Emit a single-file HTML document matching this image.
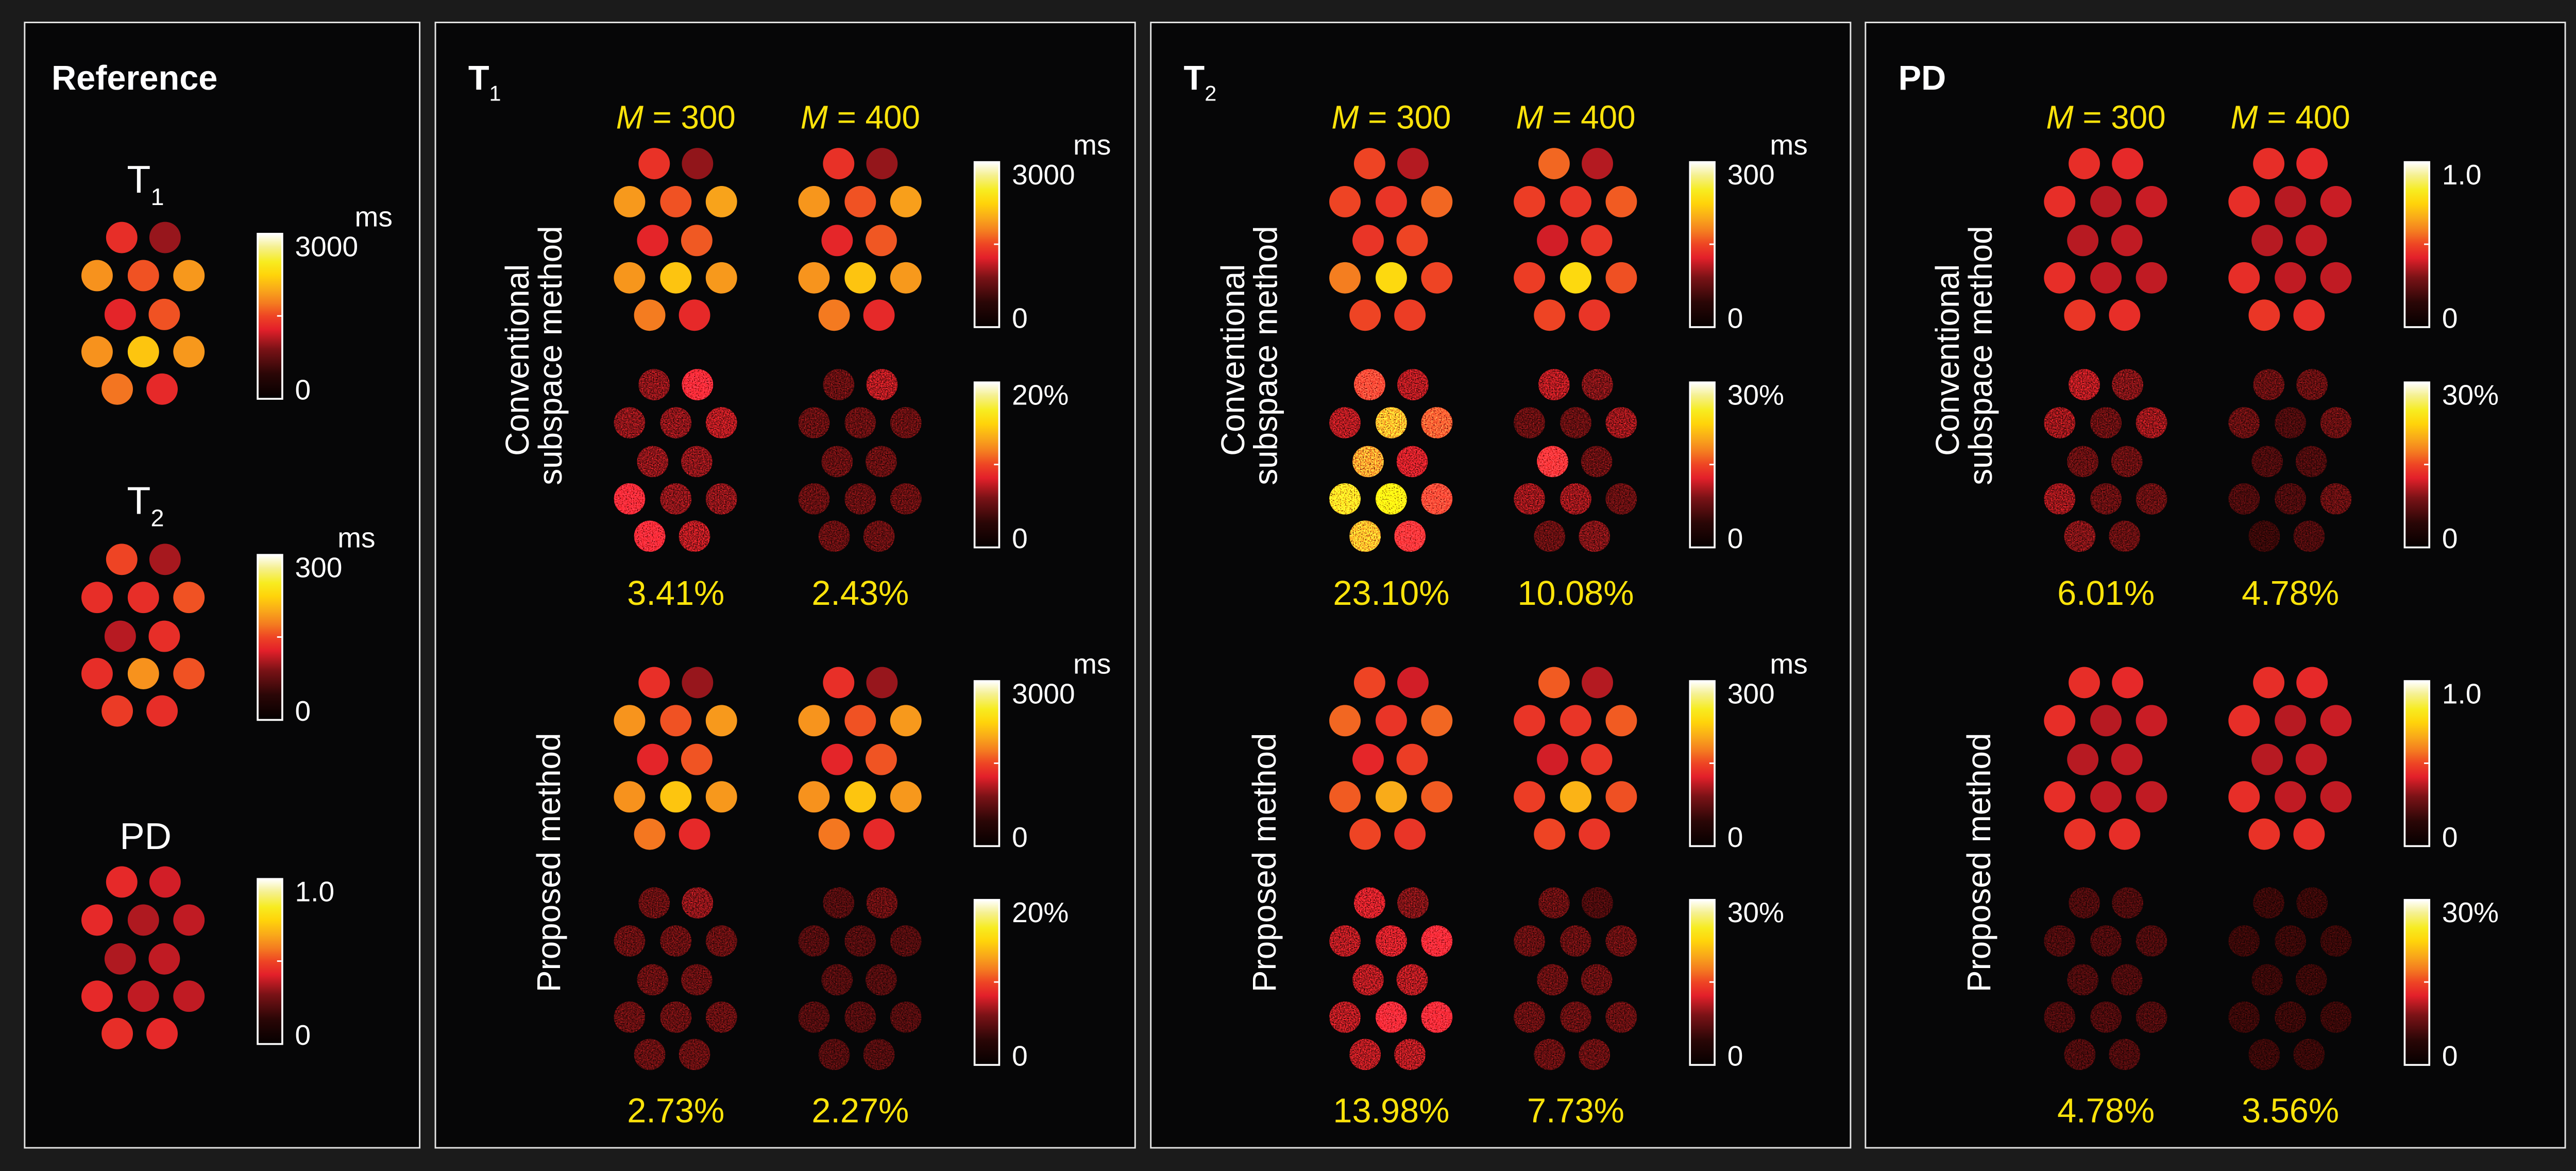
<!DOCTYPE html>
<html><head><meta charset="utf-8">
<style>
html,body{margin:0;padding:0;background:#1b1b1b;}
svg{display:block;}
text{font-family:"Liberation Sans",Arial,sans-serif;}
</style></head>
<body>
<svg id="fig" xmlns="http://www.w3.org/2000/svg" width="5024" height="2273" viewBox="0 0 3466 1568">
<defs>
<linearGradient id="cmap" x1="0" y1="1" x2="0" y2="0">
<stop offset="0" stop-color="#050000"/><stop offset="0.15" stop-color="#2a0606"/><stop offset="0.3" stop-color="#7a1216"/><stop offset="0.42" stop-color="#e3202a"/><stop offset="0.5" stop-color="#ee4424"/><stop offset="0.58" stop-color="#f47c20"/><stop offset="0.66" stop-color="#f9a81a"/><stop offset="0.75" stop-color="#ffd40a"/><stop offset="0.83" stop-color="#f7ec20"/><stop offset="0.92" stop-color="#f5f090"/><stop offset="1" stop-color="#ffffff"/>
</linearGradient>
<filter id="speckle" x="-5%" y="-5%" width="110%" height="110%" color-interpolation-filters="sRGB">
<feTurbulence type="fractalNoise" baseFrequency="0.6" numOctaves="2" seed="3" result="n"/>
<feColorMatrix in="n" type="matrix" values="0.9 0.9 0.9 0 -0.9  0.9 0.9 0.9 0 -0.9  0.9 0.9 0.9 0 -0.9  0 0 0 0 1" result="g"/>
<feComposite in="SourceGraphic" in2="g" operator="arithmetic" k1="2.4" k2="0.35" k3="0" k4="0" result="m"/>
<feComposite in="m" in2="SourceGraphic" operator="in"/>
</filter>
</defs>
<rect x="0" y="0" width="3466" height="1568" fill="#1b1b1b"/>
<g id="root"></g>
</svg>
<script>
// ---- data ----
const refT1 = [1350,1000,1860,1560,1890,1290,1560,1860,2160,1890,1710,1320];
const refT2 = [150,105,135,135,156,111,135,135,186,156,144,135];
const refPD = [0.44,0.40,0.44,0.36,0.38,0.36,0.38,0.44,0.38,0.38,0.45,0.44];

const t1Conv300 = [1380,980,1900,1560,1950,1290,1590,1880,2150,1900,1740,1320];
const t1Conv400 = [1370,990,1880,1560,1930,1300,1580,1870,2150,1900,1730,1320];
const t1Prop300 = [1360,1000,1870,1560,1900,1290,1570,1860,2160,1890,1720,1320];
const t1Prop400 = [1360,1000,1870,1560,1900,1290,1570,1860,2160,1890,1720,1320];
const t1ErrConv300 = [5,8,5,5,6,5,5,8,5,5,8,6];
const t1ErrConv400 = [4,6,4,4,4,4,4,4,4,4,4,4];
const t1ErrProp300 = [4,5,4,4,4,4,4,4,4,4,4,4];
const t1ErrProp400 = [3.5,4,3.5,3.5,3.5,3.5,3.5,3.5,3.5,3.5,3.5,3.5];

const t2Conv300 = [150,110,150,140,165,140,150,175,230,150,150,145];
const t2Conv400 = [165,110,145,140,160,120,140,145,230,155,150,140];
const t2Prop300 = [150,120,165,140,165,130,145,160,200,160,150,140];
const t2Prop400 = [160,110,140,140,160,120,140,145,205,155,150,140];
const t2ErrConv300 = [14,9,9,18,15,17,10,20,22,14,18,13];
const t2ErrConv400 = [9,7,6,6,8,13,6,8,8,6,6,7];
const t2ErrProp300 = [10,7,9,10,12,9,9,9,12,12,9,9];
const t2ErrProp400 = [6,5,6,6,6,6,6,6,6,6,6,6];

const pdConv300 = [0.45,0.44,0.45,0.37,0.39,0.37,0.38,0.45,0.38,0.38,0.47,0.45];
const pdConv400 = [0.45,0.44,0.45,0.37,0.39,0.37,0.38,0.45,0.38,0.38,0.47,0.45];
const pdProp300 = [0.45,0.44,0.45,0.37,0.39,0.37,0.38,0.45,0.38,0.38,0.46,0.45];
const pdProp400 = [0.45,0.44,0.45,0.37,0.39,0.37,0.38,0.45,0.38,0.38,0.46,0.45];
const pdErrConv300 = [9,7,8,6,8,6,6,8,6,6,7,6];
const pdErrConv400 = [6,6,6,5,6,5,5,5,5,6,4,5];
const pdErrProp300 = [5,5,5,5,5,5,5,5,5,5,5,5];
const pdErrProp400 = [4,4,4,4,4,4,4,4,4,4,4,4];

const nrmseT1 = ["3.41%","2.43%","2.73%","2.27%"];
const nrmseT2 = ["23.10%","10.08%","13.98%","7.73%"];
const nrmsePD = ["6.01%","4.78%","4.78%","3.56%"];

// ---- helpers ----
const NS="http://www.w3.org/2000/svg";
const root=document.getElementById('root');
function el(tag,attrs,parent){const e=document.createElementNS(NS,tag);for(const k in attrs)e.setAttribute(k,attrs[k]);(parent||root).appendChild(e);return e;}
const stops=[[0,[5,0,0]],[0.15,[42,6,6]],[0.3,[122,18,22]],[0.42,[227,32,42]],[0.5,[238,68,36]],[0.58,[244,124,32]],[0.66,[249,168,26]],[0.75,[255,212,10]],[0.83,[247,236,32]],[0.92,[245,240,144]],[1,[255,255,255]]];
function cmap(f){f=Math.max(0,Math.min(1,f));for(let i=1;i<stops.length;i++){if(f<=stops[i][0]){const a=stops[i-1],b=stops[i];const t=(f-a[0])/(b[0]-a[0]);const c=a[1].map((v,j)=>Math.round(v+(b[1][j]-v)*t));return 'rgb('+c.join(',')+')';}}return '#fff';}
const vdx=[-29,29,-62,0,61,-31,28,-62,0,61,-35,25];
const vdy=[-101,-101,-50,-50,-50,2,2,52,52,52,102,102];
function xVial(cx,i){return cx+vdx[i];}
function yVial(cy,i){return cy+vdy[i];}
function phantom(cx,cy,vals,max,name,speck){
  const g=el('g',{});
  
  
  if(speck)g.setAttribute('filter','url(#speckle)');
  vals.forEach((v,i)=>{
    const c=el('circle',{cx:xVial(cx,i),cy:yVial(cy,i),r:21,fill:cmap(v/max)},g);
    
    
  });
}
function txt(x,y,s,size,fill,anchor,name,extra){
  const t=el('text',Object.assign({x:x,y:y,'font-size':size,fill:fill,'text-anchor':anchor||'start'},extra||{}));
  t.textContent=s;
  
  
  return t;
}
function colorbar(x,top,hi,unit,unitX,name){
  const g=el('g',{});
  
  
  el('rect',{x:x,y:top,width:33,height:221,fill:'url(#cmap)',stroke:'#fff','stroke-width':2.5},g);
  el('line',{x1:x+26,y1:top+110,x2:x+33,y2:top+110,stroke:'#fff','stroke-width':2},g);
  const a=el('text',{x:x+50,y:top+30,'font-size':38,fill:'#fff'},g);a.textContent=hi;
  
  const b=el('text',{x:x+50,y:top+222,'font-size':38,fill:'#fff'},g);b.textContent='0';
  
  if(unit){const u=el('text',{x:unitX,y:top-10,'font-size':38,fill:'#fff'},g);u.textContent=unit;
  }
}
function subLabel(x,y,main,sub,size,bold,name,anchor){
  const t=el('text',{x:x,y:y,'font-size':size,fill:'#fff','font-weight':bold?'bold':'normal','text-anchor':anchor||'start'});
  
  
  const s1=el('tspan',{},t);s1.textContent=main;
  if(sub){const s2=el('tspan',{'font-size':size*0.62,dy:size*0.32,'font-weight':'normal'},t);s2.textContent=sub;}
}

// ---- reference panel ----
const pr=el('rect',{x:33,y:30,width:529,height:1507,fill:'#060607',stroke:'#e6e6e6','stroke-width':2});


txt(69,120,'Reference',46,'#fff','start','reference-title',{'font-weight':'bold'});
subLabel(170,258,'T','1',52,false,'ref-t1-label');
phantom(192,419,refT1,3000,'ref-t1-map',false);
colorbar(345,313,'3000','ms',475,'ref-t1-colorbar');
subLabel(170,688,'T','2',52,false,'ref-t2-label');
phantom(192,850,refT2,300,'ref-t2-map',false);
colorbar(345,743,'300','ms',452,'ref-t2-colorbar');
txt(195,1137,'PD',50,'#fff','middle','ref-pd-label');
phantom(192,1282,refPD,1,'ref-pd-map',false);
colorbar(345,1177,'1.0',null,0,'ref-pd-colorbar');

// ---- method panels ----
const panels=[
 {L:583,key:'t1',title:'T',sub:'1',max:3000,hi:'3000',unit:'ms',ux:854,maps:[t1Conv300,t1Conv400,t1Prop300,t1Prop400],errs:[t1ErrConv300,t1ErrConv400,t1ErrProp300,t1ErrProp400],emax:20,ehi:'20%',nr:nrmseT1},
 {L:1541,key:'t2',title:'T',sub:'2',max:300,hi:'300',unit:'ms',ux:829,maps:[t2Conv300,t2Conv400,t2Prop300,t2Prop400],errs:[t2ErrConv300,t2ErrConv400,t2ErrProp300,t2ErrProp400],emax:30,ehi:'30%',nr:nrmseT2},
 {L:2498,key:'pd',title:'PD',sub:null,max:1,hi:'1.0',unit:null,ux:0,maps:[pdConv300,pdConv400,pdProp300,pdProp400],errs:[pdErrConv300,pdErrConv400,pdErrProp300,pdErrProp400],emax:30,ehi:'30%',nr:nrmsePD}
];
panels.forEach(p=>{
  const L=p.L;
  const r=el('rect',{x:L,y:30,width:937,height:1507,fill:'#060607',stroke:'#e6e6e6','stroke-width':2});
  
  
  subLabel(L+44,120,p.title,p.sub,46,true,p.key+'-panel-title');
  const cols=[L+322,L+569];
  ['300','400'].forEach((m,i)=>{
    const t=el('text',{x:cols[i],y:172,'font-size':44,fill:'#fde30a','text-anchor':'middle'});
    
    
    const a=el('tspan',{'font-style':'italic'},t);a.textContent='M';
    const b=el('tspan',{},t);b.textContent=' = '+m;
  });
  txt(L+125,482,'Conventional',44,'#fff','middle',p.key+'-conventional-label',{transform:'rotate(-90 '+(L+125)+' 482)'});
  txt(L+169,476,'subspace method',44,'#fff','middle',p.key+'-subspace-label',{transform:'rotate(-90 '+(L+169)+' 476)'});
  txt(L+167,1155,'Proposed method',44,'#fff','middle',p.key+'-proposed-label',{transform:'rotate(-90 '+(L+167)+' 1155)'});
  const mapY=[320,1015], errY=[616,1310], nrY=[810,1503];
  for(let row=0;row<2;row++){
    for(let col=0;col<2;col++){
      const k=row*2+col;
      phantom(cols[col],mapY[row],p.maps[k],p.max,p.key+'-map-'+(row?'proposed':'conventional')+'-m'+(col?'400':'300'),false);
      phantom(cols[col],errY[row],p.errs[k],p.emax,p.key+'-error-'+(row?'proposed':'conventional')+'-m'+(col?'400':'300'),true);
      txt(cols[col],nrY[row],p.nr[k],46,'#fde30a','middle',p.key+'-nrmse-'+(row?'proposed':'conventional')+'-m'+(col?'400':'300'));
    }
    colorbar(L+722,row?912:217,p.hi,p.unit,L+p.ux,p.key+'-map-colorbar-'+(row?'proposed':'conventional'));
    colorbar(L+722,row?1205:512,p.ehi,null,0,p.key+'-error-colorbar-'+(row?'proposed':'conventional'));
  }
});
</script>
</body></html>
